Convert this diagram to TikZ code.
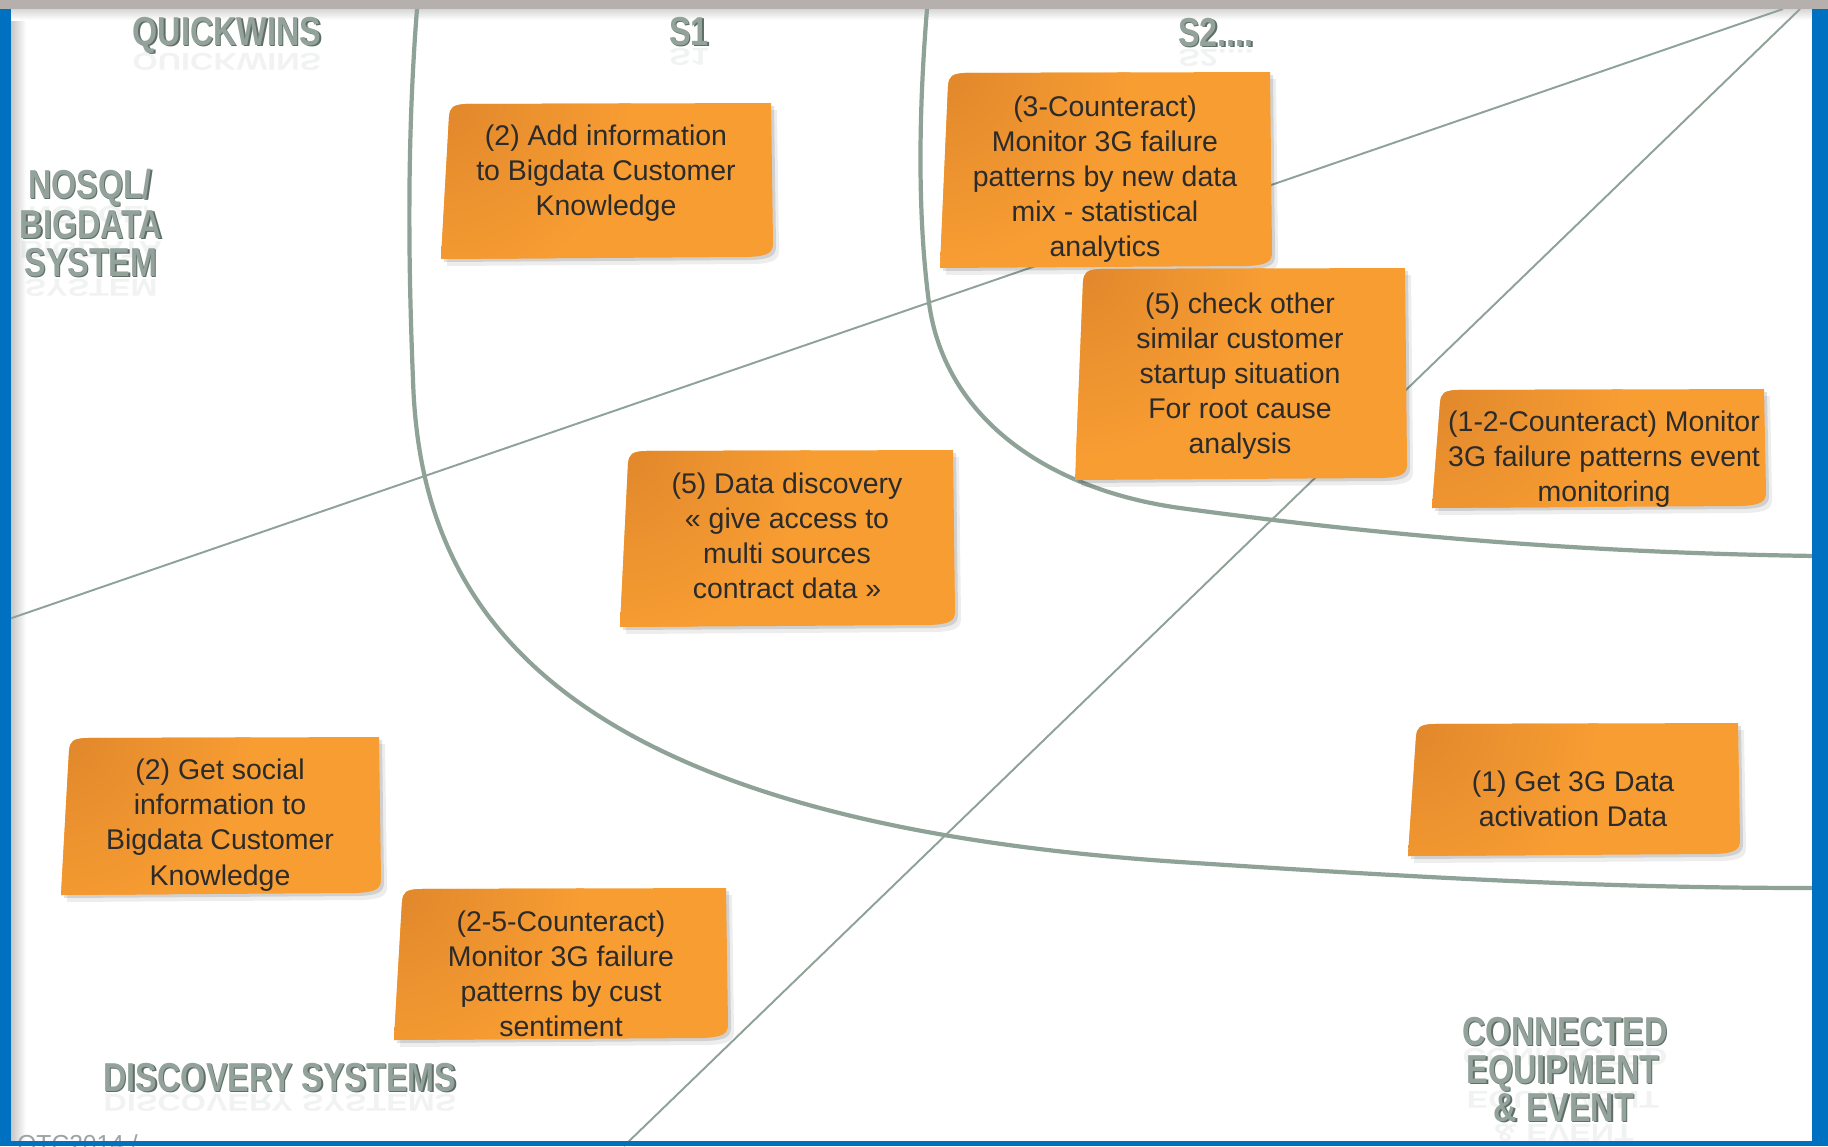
\documentclass[tikz,border=0pt]{standalone}
\usepackage{fontspec}
\usepackage{graphicx}
\setmainfont{Liberation Sans}
\usetikzlibrary{calc}

\definecolor{frameblue}{HTML}{0070C0}
\definecolor{framegray}{HTML}{B5B0AD}
\definecolor{divider}{HTML}{8FA298}
\definecolor{sticky}{HTML}{F89D32}
\definecolor{stickydark}{HTML}{E0872C}
\definecolor{notefg}{HTML}{2B2B2B}
\definecolor{metal}{HTML}{93A29B}
\definecolor{metaldark}{HTML}{5F6E67}
\definecolor{footgray}{HTML}{9CA2A8}

\tikzset{
  boundary/.style={draw=divider, line width=2.4pt, line cap=round},
  divline/.style={draw=divider, line width=1.1pt},
  notetext/.style={align=center, inner sep=0pt, text=notefg,
    font=\fontsize{16.2}{20}\selectfont},
}

\newcommand\headfont{\fontsize{23}{27}\selectfont\bfseries}

% body outline of a sticky note: style, x1, y1, x2, y2 (pixel units, y down)
\newcommand\notebodypath[5]{%
  \path[#1] (#2+8,#3+14) .. controls (#2+9,#3+4) and (#2+12,#3+2) .. (#2+24,#3+1)
    -- (#4-1,#3) -- (#4+1,#5-16) .. controls (#4+1,#5-6) and (#4-4,#5-3) .. (#4-24,#5-2)
    -- (#2,#5) -- cycle;}

% sticky note: name, x1, y1, x2, y2, text x, text y, text
\newcommand\StickyNote[8]{%
  \notebodypath{fill=black,opacity=0.07,shift={(6,7)}}{#2}{#3}{#4}{#5}
  \notebodypath{fill=black,opacity=0.12,shift={(3,3)}}{#2}{#3}{#4}{#5}
  \begin{scope}
    \notebodypath{clip}{#2}{#3}{#4}{#5}
    \fill[sticky] (#2-5,#3-5) rectangle (#4+5,#5+5);
    \shade[inner color=stickydark, outer color=sticky] (#2,#3) circle (190);
  \end{scope}
  \node[notetext] (#1) at (#6,#7) {#8};
}

% metallic heading line with its faint reflection: name, x, baseline y, text
\newcommand\HeadLine[4]{%
  \node[anchor=base, inner sep=0pt, text=metaldark] (#1-edge) at (#2+1.3,#3+1.3) {\scalebox{0.8}[1]{\headfont #4}};
  \node[anchor=base, inner sep=0pt, text=metal] (#1) at (#2,#3) {\scalebox{0.8}[1]{\headfont #4}};
  \node[anchor=north, inner sep=0pt, text=metal, opacity=0.13] (#1-mirror) at (#2,#3+3) {\scalebox{0.8}[-0.6]{\headfont #4}};
}

\begin{document}
\begin{tikzpicture}[x=0.02cm,y=-0.02cm]
\useasboundingbox (0,0) rectangle (1828,1146);
\fill[white] (0,0) rectangle (1828,1146);

% soft shading along the frame
\shade[left color=black!22, right color=white] (11,9) rectangle (26,1141);
\shade[top color=black!16, bottom color=white] (11,9) rectangle (1812,20);

% region boundaries
\draw[boundary] (417,9) .. controls (406,150) and (409,280) .. (413,380)
  .. controls (420,600) and (540,820) .. (1180,862)
  .. controls (1500,883) and (1650,888) .. (1816,888);
\draw[boundary] (927,9) .. controls (918,120) and (918,220) .. (929,303)
  .. controls (945,420) and (1050,490) .. (1180,508)
  .. controls (1400,538) and (1600,553) .. (1816,556);

% diagonal dividers
\draw[divline] (6,620) -- (1783,9);
\draw[divline] (624,1146) -- (1800,9);

% headings
\HeadLine{hq}{227}{45}{QUICKWINS}
\HeadLine{hs1}{689}{45}{S1}
\HeadLine{hs2}{1216}{46}{S2....}
\HeadLine{hn1}{90}{198}{NOSQL/}
\HeadLine{hn2}{91}{238}{BIGDATA}
\HeadLine{hn3}{91}{276}{SYSTEM}
\HeadLine{hd}{280}{1091}{DISCOVERY SYSTEMS}
\HeadLine{hc1}{1565}{1045}{CONNECTED}
\HeadLine{hc2}{1563}{1083}{EQUIPMENT}
\HeadLine{hc3}{1564}{1121}{\& EVENT}

% sticky notes
\StickyNote{addinfo}{441}{103}{772}{259}{606}{173}{(2) Add information\\to Bigdata Customer\\Knowledge}
\StickyNote{newmix}{940}{72}{1271}{268}{1105}{179}{(3-Counteract)\\Monitor 3G failure\\patterns by new data\\mix - statistical\\analytics}
\StickyNote{rootcause}{1075}{268}{1406}{480}{1240}{376}{(5) check other\\similar customer\\startup situation\\For root cause\\analysis}
\StickyNote{eventmon}{1432}{389}{1765}{508}{1604}{459}{(1-2-Counteract) Monitor\\3G failure patterns event\\monitoring}
\StickyNote{discovery}{620}{450}{954}{627}{787}{536}{(5) Data discovery\\« give access to\\multi sources\\contract data »}
\StickyNote{social}{61}{737}{380}{895}{220}{825}{(2) Get social\\information to\\Bigdata Customer\\Knowledge}
\StickyNote{sentiment}{394}{888}{727}{1040}{561}{974}{(2-5-Counteract)\\Monitor 3G failure\\patterns by cust\\sentiment}
\StickyNote{activation}{1408}{723}{1739}{856}{1573}{799}{(1) Get 3G Data\\activation Data}

% footer, mostly hidden under the frame
\node[anchor=base west, inner sep=0pt, text=footgray, font=\fontsize{14}{16}\selectfont] (footer) at (17,1152) {OTC2014 /};

% frame
\fill[framegray] (0,0) rectangle (1828,9);
\fill[frameblue] (0,9) rectangle (11,1146);
\fill[frameblue] (1812,9) rectangle (1828,1146);
\fill[frameblue] (0,1141) rectangle (1828,1146);
\end{tikzpicture}
\end{document}
